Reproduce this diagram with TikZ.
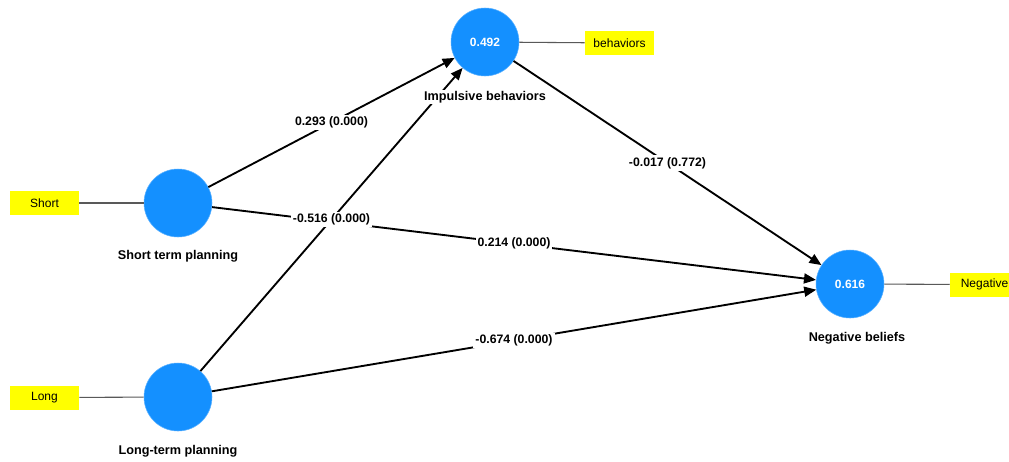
\documentclass[tikz,border=0pt]{standalone}
\usepackage{fontspec}
\setmainfont{Liberation Sans}
\usetikzlibrary{arrows.meta}
\definecolor{lvblue}{RGB}{20,144,255}
\definecolor{indyellow}{RGB}{255,255,0}
\begin{document}
\begin{tikzpicture}[x=0.75pt,y=-0.75pt,
  lv/.style={circle,fill=lvblue,draw=lvblue!70!white,line width=0.4pt,minimum size=51pt,inner sep=0pt,
    text=white,font=\fontsize{9}{10}\selectfont\bfseries},
  ind/.style={rectangle,fill=indyellow,minimum width=51.75pt,minimum height=18pt,inner sep=0pt,
    font=\fontsize{9}{10}\selectfont},
  title/.style={font=\fontsize{9.5}{11}\selectfont\bfseries,inner sep=1pt},
  indline/.style={draw=black!65,line width=0.8pt},
  arr/.style={draw=black,line width=1.4pt,-{Triangle[length=9pt,width=7.5pt]}},
  elab/.style={fill=white,inner sep=1.5pt,font=\fontsize{9.2}{10}\selectfont\bfseries}]
\clip (0,0) rectangle (1009,461);
\fill[white] (0,0) rectangle (1009,461);
% latent variables
\node[lv] (st) at (178,203) {};
\node[lv] (lt) at (178,397) {};
\node[lv] (ib) at (485,42) {0.492};
\node[lv] (nb) at (850,284) {0.616};
% indicators
\node[ind] (sbox) at (44.5,203) {Short};
\node[ind] (lbox) at (44.5,397.5) {Long};
\node[ind] (bbox) at (619.5,43) {behaviors};
\node[ind] (nbox) at (984.5,284.5) {Negative};
\draw[indline] (sbox) -- (st);
\draw[indline] (lbox) -- (lt);
\draw[indline] (bbox) -- (ib);
\draw[indline] (nbox) -- (nb);
% paths
\draw[arr] (st) -- (ib);
\draw[arr] (lt) -- (ib);
\draw[arr] (st) -- (nb);
\draw[arr] (lt) -- (nb);
\draw[arr] (ib) -- (nb);
% edge labels
\path (st) -- node[elab] (l1) {0.293 (0.000)} (ib);
\path (st) -- node[elab] (l3) {0.214 (0.000)} (nb);
\path (lt) -- node[elab] (l2) {-0.516 (0.000)} (ib);
\path (lt) -- node[elab] (l4) {-0.674 (0.000)} (nb);
\path (ib) -- node[elab] (l5) {-0.017 (0.772)} (nb);
% titles
\node[title,fill=white] (tib) at (485,97) {Impulsive behaviors};
\node[title] (tst) at (178,256) {Short term planning};
\node[title] (tlt) at (178,451) {Long-term planning};
\node[title] (tnb) at (857,338) {Negative beliefs};
\end{tikzpicture}
\end{document}
